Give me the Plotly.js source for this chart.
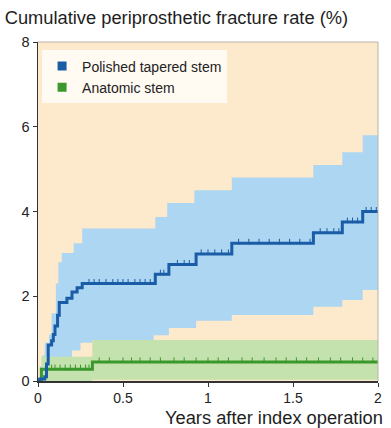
<!DOCTYPE html>
<html>
<head>
<meta charset="utf-8">
<script src="https://cdn.plot.ly/plotly-3.0.1.min.js"></script>
<style>html,body{margin:0;padding:0;background:#fff;}#chart{width:391px;height:428px;}</style>
</head>
<body>
<div id="chart"></div>
<script>
// Polished tapered stem: Kaplan-Meier estimate (step points)
var ptX = [0, 0.01, 0.04, 0.05, 0.06, 0.08, 0.09, 0.1, 0.115, 0.125, 0.17, 0.2, 0.23, 0.26, 0.69, 0.77, 0.93, 1.14, 1.62, 1.79, 1.91, 2.0];
var ptY = [0, 0.05, 0.1, 0.4, 0.85, 0.95, 1.1, 1.3, 1.55, 1.85, 1.95, 2.1, 2.2, 2.3, 2.52, 2.75, 3.0, 3.25, 3.5, 3.75, 4.0, 4.0];
// Polished tapered stem: 95% CI
var ptUpX = [0, 0.01, 0.025, 0.04, 0.065, 0.08, 0.105, 0.12, 0.14, 0.21, 0.26, 0.69, 0.76, 0.92, 1.14, 1.62, 1.79, 1.91, 2.0];
var ptUpY = [0, 0.35, 0.6, 0.9, 1.1, 1.6, 2.3, 2.8, 3.02, 3.25, 3.6, 3.87, 4.2, 4.5, 4.8, 5.1, 5.4, 5.8, 5.8];
var ptLoX = [0, 0.1, 0.14, 0.2, 0.25, 0.32, 0.68, 0.77, 0.93, 1.14, 1.62, 1.79, 1.91, 2.0];
var ptLoY = [0, 0.3, 0.55, 0.72, 0.9, 0.97, 1.08, 1.25, 1.42, 1.56, 1.75, 1.91, 2.15, 2.15];
// Anatomic stem: estimate and 95% CI
var anX = [0, 0.02, 0.32, 2.0];
var anY = [0, 0.28, 0.45, 0.45];
var anUpY = [0, 0.57, 0.97, 0.97];
var anLoY = [0, 0.0, 0.03, 0.03];
// censoring times
var ptCens = [0.3, 0.33, 0.36, 0.4, 0.44, 0.47, 0.5, 0.53, 0.57, 0.6, 0.63, 0.66, 0.72, 0.74, 0.82, 0.86, 0.89, 0.96, 1.0, 1.04, 1.08, 1.12, 1.18, 1.24, 1.3, 1.36, 1.42, 1.48, 1.54, 1.6, 1.66, 1.7, 1.74, 1.77, 1.82, 1.85, 1.88, 1.93, 1.96, 1.99];
var anCens = [0.05, 0.08, 0.1, 0.13, 0.16, 0.19, 0.22, 0.25, 0.28, 0.3, 0.36, 0.42, 0.5, 0.55, 0.6, 0.66, 0.72, 0.8, 0.86, 0.93, 1.0, 1.06, 1.12, 1.2, 1.26, 1.33, 1.4, 1.46, 1.52, 1.58, 1.65, 1.72, 1.78, 1.85, 1.91, 1.97];
var seriesNames = ['Polished tapered stem', 'Anatomic stem'];
var yTicks = [0, 2, 4, 6, 8];
var xTicks = [0, 0.5, 1, 1.5, 2];
var xTickText = ['0', '0.5', '1', '1.5', '2'];

function stepAt(xs, ys, t) {
  var v = ys[0];
  for (var i = 0; i < xs.length; i++) { if (xs[i] <= t) v = ys[i]; }
  return v;
}

var BLUE = '#1a5ca6', BLUEBAND = '#acd6f2', GREEN = '#3a982c', GREENBAND = '#c3e2ad';
var FONT = 'Liberation Sans, Arial, sans-serif';

var traces = [
  {x: ptLoX, y: ptLoY, mode: 'lines', line: {width: 0, shape: 'hv'}, showlegend: false, hoverinfo: 'skip'},
  {x: ptUpX, y: ptUpY, mode: 'lines', line: {width: 0, shape: 'hv'}, fill: 'tonexty', fillcolor: BLUEBAND, showlegend: false, hoverinfo: 'skip'},
  {x: anX, y: anLoY, mode: 'lines', line: {width: 0, shape: 'hv'}, showlegend: false, hoverinfo: 'skip'},
  {x: anX, y: anUpY, mode: 'lines', line: {width: 0, shape: 'hv'}, fill: 'tonexty', fillcolor: GREENBAND, showlegend: false, hoverinfo: 'skip'},
  {x: anX, y: anY, mode: 'lines', line: {width: 3, shape: 'hv', color: GREEN}, showlegend: false},
  {x: anCens, y: anCens.map(function(t){return stepAt(anX, anY, t) + 0.04;}), mode: 'markers', marker: {symbol: 'line-ns', size: 4, line: {width: 1, color: GREEN}}, showlegend: false},
  {x: ptX, y: ptY, mode: 'lines', line: {width: 3, shape: 'hv', color: BLUE}, showlegend: false},
  {x: ptCens, y: ptCens.map(function(t){return stepAt(ptX, ptY, t) + 0.04;}), mode: 'markers', marker: {symbol: 'line-ns', size: 4, line: {width: 1, color: BLUE}}, showlegend: false},
  {x: [null], y: [null], mode: 'markers', name: seriesNames[0], marker: {symbol: 'square', size: 9, color: BLUE}},
  {x: [null], y: [null], mode: 'markers', name: seriesNames[1], marker: {symbol: 'square', size: 9, color: GREEN}}
];

var layout = {
  width: 391, height: 428,
  margin: {l: 38, r: 13, t: 42, b: 47},
  paper_bgcolor: '#ffffff',
  plot_bgcolor: '#fde9cb',
  font: {family: FONT, size: 14, color: '#222'},
  title: {text: 'Cumulative periprosthetic fracture rate (%)', x: 0.012, xanchor: 'left', y: 0.958, yanchor: 'middle', font: {size: 18.3, color: '#1e1e1e'}},
  xaxis: {range: [0, 2], tickvals: xTicks, ticktext: xTickText, showgrid: false, zeroline: false, showline: true, linecolor: '#333', linewidth: 1.5, ticks: 'outside', ticklen: 4, tickcolor: '#333', tickfont: {size: 14}, fixedrange: true},
  yaxis: {range: [0, 8], tickvals: yTicks, showgrid: false, zeroline: false, showline: true, linecolor: '#333', linewidth: 1.5, ticks: 'outside', ticklen: 4, tickcolor: '#333', tickfont: {size: 14.5}, fixedrange: true},
  legend: {x: 0.012, y: 0.975, xanchor: 'left', yanchor: 'top', traceorder: 'normal', bgcolor: 'rgba(255,255,255,0.75)', font: {size: 14, color: '#222'}, tracegroupgap: 0, itemwidth: 30},
  annotations: [
    {text: 'Years after index operation', xref: 'paper', yref: 'paper', x: 1.02, y: -0.108, xanchor: 'right', yanchor: 'middle', showarrow: false, font: {size: 18.3, color: '#1e1e1e'}}
  ],
  shapes: [
    {type: 'line', xref: 'paper', yref: 'paper', x0: 0, x1: 1, y0: 1, y1: 1, line: {color: '#b9b2a6', width: 1}},
    {type: 'line', xref: 'paper', yref: 'paper', x0: 1, x1: 1, y0: 0, y1: 1, line: {color: '#b9b2a6', width: 1}}
  ],
  showlegend: true
};

Plotly.newPlot('chart', traces, layout, {displayModeBar: false, staticPlot: true});
</script>
</body>
</html>
